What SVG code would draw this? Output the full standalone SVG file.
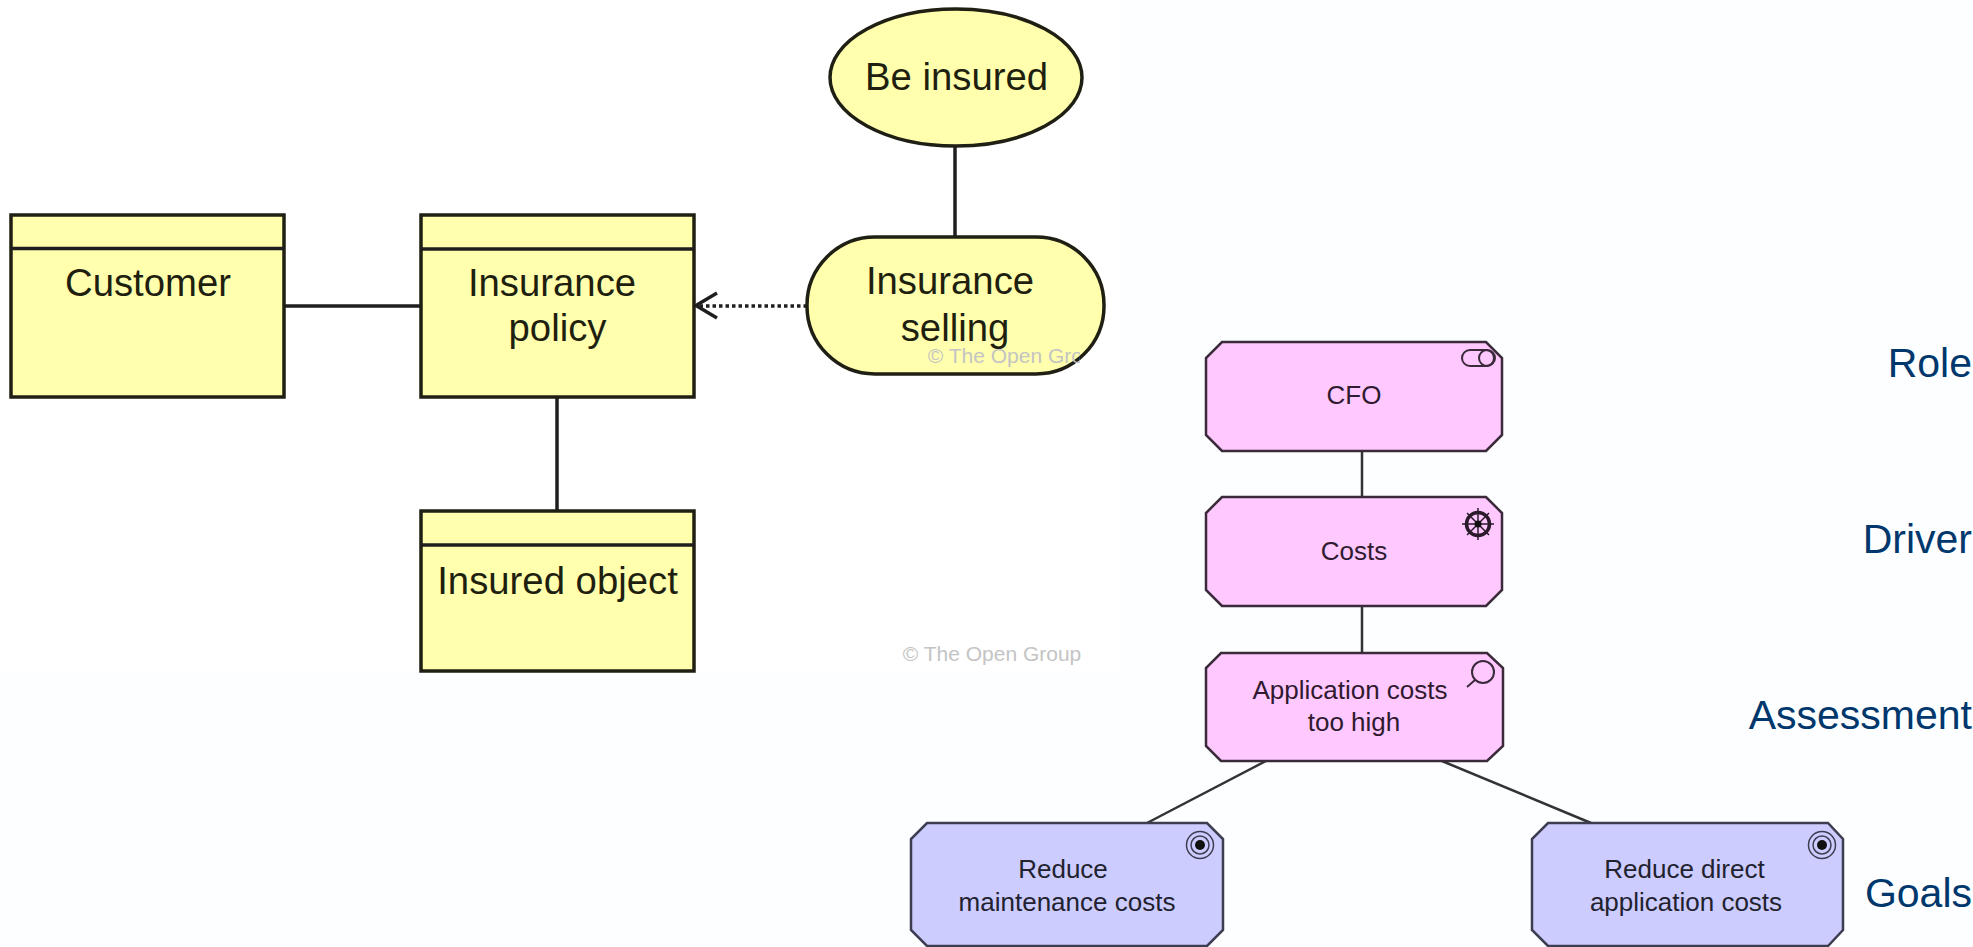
<svg xmlns="http://www.w3.org/2000/svg" width="1973" height="947" viewBox="0 0 1973 947">
<style>
.y{fill:#ffffad;stroke:#1f1f14;stroke-width:3.500}
.m{fill:#ffc8ff;stroke:#3a2a3a;stroke-width:2.500}
.b{fill:#ccccff;stroke:#3d3d52;stroke-width:2.500}
.c{fill:none;stroke:#1f1f1f;stroke-width:3.500}
.c2{fill:none;stroke:#333;stroke-width:2.500}
.i{fill:none;stroke:#3a2a3a;stroke-width:2}
.g{fill:none;stroke:#3d3d52;stroke-width:1.500}
text{font-family:"Liberation Sans",Arial,sans-serif;text-anchor:middle}
.t{font-size:38.300px;fill:#1f1f10}
.s{font-size:26px;fill:#2f1a2f}
.s2{font-size:26px;fill:#22222f}
.l{font-size:41px;fill:#00376c;text-anchor:end}
.w{font-size:21px;fill:#c4c4c4}
</style>
<defs><clipPath id="wm"><rect x="900" y="340" width="180" height="40"/></clipPath></defs>
<rect width="1973" height="947" fill="#fdfeff"/>
<rect width="1120" height="672" fill="#ffffff"/>
<g id="connectors">
<line class="c" x1="284" y1="306" x2="421" y2="306"/>
<line class="c" x1="557" y1="397" x2="557" y2="511"/>
<line class="c" x1="955" y1="146" x2="955" y2="237"/>
<line class="c" x1="807" y1="306" x2="697" y2="306" stroke-dasharray="3.500 3"/>
<path class="c" d="M717 293L696 305.500L717 318"/>
<line class="c2" x1="1362" y1="451" x2="1362" y2="497"/>
<line class="c2" x1="1362" y1="606" x2="1362" y2="653"/>
<line class="c2" x1="1266" y1="761" x2="1147" y2="823"/>
<line class="c2" x1="1442" y1="761" x2="1591" y2="823"/>
</g>
<g id="customer"><rect class="y" x="11" y="215" width="273" height="182"/><line class="c" x1="11" y1="248.500" x2="284" y2="248.500"/><text class="t" x="148" y="296">Customer</text></g>
<g id="policy"><rect class="y" x="421" y="215" width="273" height="182"/><line class="c" x1="421" y1="249" x2="694" y2="249"/><text class="t" x="552" y="296">Insurance</text><text class="t" x="557.500" y="341">policy</text></g>
<g id="object"><rect class="y" x="421" y="511" width="273" height="160"/><line class="c" x1="421" y1="545" x2="694" y2="545"/><text class="t" x="557.500" y="594">Insured object</text></g>
<g id="be-insured"><ellipse class="y" cx="956" cy="77.500" rx="126" ry="68.500"/><text class="t" x="956.500" y="90">Be insured</text></g>
<g id="selling"><rect class="y" x="807" y="237" width="297" height="137" rx="68" ry="68"/><text class="t" x="950" y="294">Insurance</text><text class="t" x="955" y="341">selling</text></g>
<g clip-path="url(#wm)"><text class="w" x="1017" y="363">© The Open Group</text></g>
<text class="w" x="992" y="661">© The Open Group</text>
<g id="cfo"><path class="m" d="M1222 342H1486L1502 358V435L1486 451H1222L1206 435V358Z"/><rect class="i" x="1462" y="350" width="32" height="16" rx="8"/><circle class="i" cx="1487" cy="358" r="8"/><text class="s" x="1354" y="404">CFO</text></g>
<g id="costs"><path class="m" d="M1222 497H1486L1502 513V590L1486 606H1222L1206 590V513Z"/><circle cx="1478" cy="524" r="11.500" fill="none" stroke="#2a1a2a" stroke-width="3.500"/><path stroke="#2a1a2a" stroke-width="1.500" d="M1478 508V540M1462 524H1494M1467 513L1489 535M1489 513L1467 535"/><circle cx="1478" cy="524" r="3.500" fill="#111"/><text class="s" x="1354" y="560">Costs</text></g>
<g id="assessment"><path class="m" d="M1221 653H1487L1503 668V746L1487 761H1221L1206 746V668Z"/><circle class="i" cx="1483" cy="672" r="11"/><line class="i" x1="1475" y1="680" x2="1467" y2="687"/><text class="s" x="1350" y="699">Application costs</text><text class="s" x="1354" y="731">too high</text></g>
<g id="goal-1"><path class="b" d="M927 823H1207L1223 839V930L1207 946H927L911 930V839Z"/><circle class="g" cx="1200" cy="845" r="13.500"/><circle class="g" cx="1200" cy="845" r="9"/><circle cx="1200" cy="845" r="5" fill="#111"/><text class="s2" x="1063" y="878">Reduce</text><text class="s2" x="1067" y="911">maintenance costs</text></g>
<g id="goal-2"><path class="b" d="M1548 823H1828L1843 839V930L1828 946H1548L1532 930V839Z"/><circle class="g" cx="1822" cy="845" r="13.500"/><circle class="g" cx="1822" cy="845" r="9"/><circle cx="1822" cy="845" r="5" fill="#111"/><text class="s2" x="1684.500" y="878">Reduce direct</text><text class="s2" x="1686" y="911">application costs</text></g>
<text class="l" x="1972" y="377">Role</text>
<text class="l" x="1972" y="553">Driver</text>
<text class="l" x="1972" y="729">Assessment</text>
<text class="l" x="1972" y="907">Goals</text>
</svg>
